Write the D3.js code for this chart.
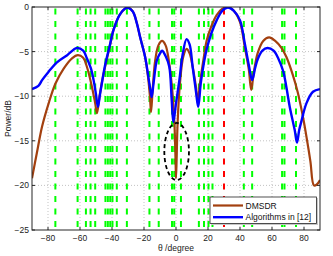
<!DOCTYPE html>
<html><head><meta charset="utf-8">
<script src="https://cdn.jsdelivr.net/npm/d3@7"></script>
<style>body{margin:0;background:#fff}svg{display:block}</style>
</head><body><svg id="c" width="333" height="256"></svg>
<script>
const xTicks = [-80, -60, -40, -20, 0, 20, 40, 60, 80];
const xTickLabels = ["\u221280", "\u221260", "\u221240", "\u221220", "0", "20", "40", "60", "80"];
const yTicks = [-25, -20, -15, -10, -5, 0];
const yTickLabels = ["\u221225", "\u221220", "\u221215", "\u221210", "\u22125", "0"];
const seriesNames = ["DMSDR", "Algorithms in [12]"];
const interferenceAngles = [-75.4, -61.5, -56.3, -53.4, -50.5, -44.1, -42.6, -41.1, -39.7, -37.0, -30.7, -16.6, -10.8, -2.5, -1.1, 3.1, 14.3, 17.5, 20.3, 22.8, 42.4, 47.6, 66.3, 67.8, 75.0];
const desiredAngle = [30];
const ellipseCenter = [0.4, -16.2];
const ellipseRadii = [7.7, 3.2];

const dmsdrAngles = [-90, -87, -83.7, -79.6, -75.4, -70.2, -65, -61.3, -58, -55.7, -52.6, -50.5, -49.4, -48, -46.5, -44.3, -41.5, -39.1, -35.3, -32, -30, -27, -24.5, -22.4, -19.3, -17.5, -16.3, -15.6, -14.5, -13, -11, -8.7, -6.5, -4.5, -2.5, -1, -0.3, 0, 0.4, 1, 2.5, 4.5, 6.6, 8.5, 10.5, 12.5, 13.6, 15, 17.5, 19.1, 22, 25.4, 29, 32.5, 36, 40, 43, 45.5, 47, 48.5, 51, 54.5, 58.2, 62, 66, 69, 73, 76, 79, 81.5, 84, 86.2, 88, 90];
const dmsdrValues = [-19.2, -16.4, -13.4, -10.8, -8.6, -6.9, -5.75, -5.4, -5.7, -6.7, -8.9, -10.8, -11.9, -10.3, -8.6, -6.7, -4.5, -2.6, -0.9, -0.2, -0.05, -0.5, -1.8, -3.4, -5.6, -7.8, -10, -11.8, -9, -6, -4.3, -3.8, -4.3, -6, -9, -13, -17, -19.2, -17, -13, -8.5, -5.6, -4.7, -5.2, -6.8, -9, -10.6, -8.5, -5.5, -3.8, -2.2, -0.9, -0.2, 0, -0.4, -1.7, -4.5, -7, -9.3, -7.5, -5.2, -3.8, -3.4, -3.8, -4.6, -5.6, -7.6, -9.5, -12, -14.5, -17.3, -20, -19.9, -19.4];

const algAngles = [-90, -86, -83.7, -79.6, -74.4, -68, -62, -58, -55.7, -53, -51.5, -50, -48.8, -47.5, -46, -44.3, -41.5, -39.1, -35.3, -32, -30, -27, -24.5, -22.4, -19.3, -17.3, -16, -15.2, -14, -12, -10, -8.7, -6.5, -4.2, -2.7, -1.7, -0.7, 0, 2.1, 4, 6.6, 8.5, 10.4, 12.5, 13.9, 15.5, 17.5, 19.1, 22, 25.4, 29, 32.5, 36, 40, 43, 45.5, 47.6, 49.5, 51.3, 54, 57.2, 61, 64, 67, 69, 71.1, 74.2, 75.6, 77, 78.4, 81.5, 85.6, 90];
const algValues = [-9.2, -8.85, -8.2, -7.25, -6.2, -5.4, -4.6, -4.9, -5.75, -7, -8.2, -9.8, -11.2, -9.8, -8.2, -6.5, -4.4, -2.6, -0.9, -0.2, -0.1, -0.5, -1.8, -3.4, -5.6, -7.8, -9.3, -10.1, -8.5, -6.0, -5.2, -4.9, -5.5, -6.7, -10.4, -12.9, -11.8, -10.8, -8.2, -5.5, -3.6, -4.2, -6.7, -9.5, -11.2, -8.5, -6.2, -4.8, -3, -1.5, -0.4, -0.05, -0.4, -1.5, -4.1, -6.5, -8.2, -6.8, -5.75, -4.9, -4.6, -4.9, -5.8, -7.2, -9, -11.2, -13.8, -15.2, -13.8, -12.8, -10.8, -9.5, -9.2];

const seriesColors = ["#a3400f", "#0000ff"];

const L = 32, R = 320, T = 7, B = 230;
const svg = d3.select("#c");
const x = d3.scaleLinear().domain([-90, 90]).range([L, R]);
const y = d3.scaleLinear().domain([-25, 0]).range([B, T]);
const font = "'Liberation Sans', Arial, Helvetica, sans-serif";

svg.append("rect").attr("width", 333).attr("height", 256).attr("fill", "#fff");
svg.append("rect").attr("x", L).attr("y", T).attr("width", R - L).attr("height", B - T).attr("fill", "#fff");

// grid
const grid = svg.append("g").attr("stroke", "#b4b4b4").attr("stroke-width", 0.8).attr("stroke-dasharray", "1,2");
grid.selectAll("line.gx").data(xTicks).join("line")
  .attr("x1", d => x(d)).attr("x2", d => x(d)).attr("y1", T).attr("y2", B);
grid.selectAll("line.gy").data(yTicks.filter(d => d > -25 && d < 0)).join("line")
  .attr("x1", L).attr("x2", R).attr("y1", d => y(d)).attr("y2", d => y(d));

// vertical dashed lines
const vg = svg.append("g");
vg.selectAll("line.g").data(interferenceAngles).join("line")
  .attr("x1", d => x(d)).attr("x2", d => x(d)).attr("y1", y(0) + 1.5).attr("y2", y(-25))
  .attr("stroke", "#00ff00").attr("stroke-width", 2).attr("stroke-dasharray", "6,6.5");
vg.selectAll("line.r").data(desiredAngle).join("line")
  .attr("x1", d => x(d)).attr("x2", d => x(d)).attr("y1", y(0) + 1.5).attr("y2", y(-25))
  .attr("stroke", "#ff0000").attr("stroke-width", 2).attr("stroke-dasharray", "6,6.5");

// curves
const line = d3.line().x(d => x(d[0])).y(d => y(d[1])).curve(d3.curveCatmullRom.alpha(0.5));
const clip = svg.append("clipPath").attr("id", "clp").append("rect")
  .attr("x", L).attr("y", T).attr("width", R - L).attr("height", B - T);
const cg = svg.append("g").attr("clip-path", "url(#clp)");
cg.append("path").datum(dmsdrAngles.map((a, i) => [a, dmsdrValues[i]]))
  .attr("d", line).attr("fill", "none").attr("stroke", seriesColors[0]).attr("stroke-width", 2.2).attr("stroke-linejoin", "round");
cg.append("path").datum(algAngles.map((a, i) => [a, algValues[i]]))
  .attr("d", line).attr("fill", "none").attr("stroke", seriesColors[1]).attr("stroke-width", 2.4).attr("stroke-linejoin", "round");

// ellipse annotation
svg.append("ellipse")
  .attr("cx", x(ellipseCenter[0])).attr("cy", y(ellipseCenter[1]))
  .attr("rx", x(ellipseCenter[0] + ellipseRadii[0]) - x(ellipseCenter[0]))
  .attr("ry", y(ellipseCenter[1] - ellipseRadii[1]) - y(ellipseCenter[1]))
  .attr("fill", "none").attr("stroke", "#000").attr("stroke-width", 1.8).attr("stroke-dasharray", "4,3");

// axes box
const ax = svg.append("g").attr("stroke", "#262626").attr("stroke-width", 1);
ax.append("rect").attr("x", L).attr("y", T).attr("width", R - L).attr("height", B - T).attr("fill", "none");
xTicks.forEach(t => {
  ax.append("line").attr("x1", x(t)).attr("x2", x(t)).attr("y1", B).attr("y2", B - 3);
  ax.append("line").attr("x1", x(t)).attr("x2", x(t)).attr("y1", T).attr("y2", T + 3);
});
yTicks.forEach(t => {
  ax.append("line").attr("x1", L).attr("x2", L + 3).attr("y1", y(t)).attr("y2", y(t));
  ax.append("line").attr("x1", R).attr("x2", R - 3).attr("y1", y(t)).attr("y2", y(t));
});

// tick labels
svg.append("g").selectAll("text").data(xTicks).join("text")
  .attr("x", d => x(d)).attr("y", 241).attr("text-anchor", "middle")
  .attr("font-family", font).attr("font-size", 8.5).attr("fill", "#222")
  .text((d, i) => xTickLabels[i]);
svg.append("g").selectAll("text").data(yTicks).join("text")
  .attr("x", 29).attr("y", d => y(d) + 3).attr("text-anchor", "end")
  .attr("font-family", font).attr("font-size", 8.5).attr("fill", "#222")
  .text((d, i) => yTickLabels[i]);

// axis labels
svg.append("text").attr("x", x(0)).attr("y", 250.5).attr("text-anchor", "middle")
  .attr("font-family", font).attr("font-size", 8.5).attr("fill", "#222").text("\u03b8 /degree");
svg.append("text").attr("transform", `translate(11,${(T + B) / 2}) rotate(-90)`).attr("text-anchor", "middle")
  .attr("font-family", font).attr("font-size", 8.5).attr("fill", "#222").text("Power/dB");

// legend
const lg = svg.append("g");
lg.append("rect").attr("x", 211).attr("y", 198).attr("width", 107).attr("height", 27).attr("fill", "#c8c8c8");
lg.append("rect").attr("x", 210).attr("y", 197).attr("width", 106.5).attr("height", 26.5).attr("fill", "#fff").attr("stroke", "#262626").attr("stroke-width", 0.8);
seriesNames.forEach((n, i) => {
  const yy = 205.5 + i * 11.7;
  lg.append("line").attr("x1", 213).attr("x2", 243).attr("y1", yy).attr("y2", yy)
    .attr("stroke", seriesColors[i]).attr("stroke-width", i === 0 ? 2.2 : 2.4);
  lg.append("text").attr("x", 245.5).attr("y", yy + 3).attr("font-family", font).attr("font-size", 8.5).attr("fill", "#111").text(n);
});
</script></body></html>
